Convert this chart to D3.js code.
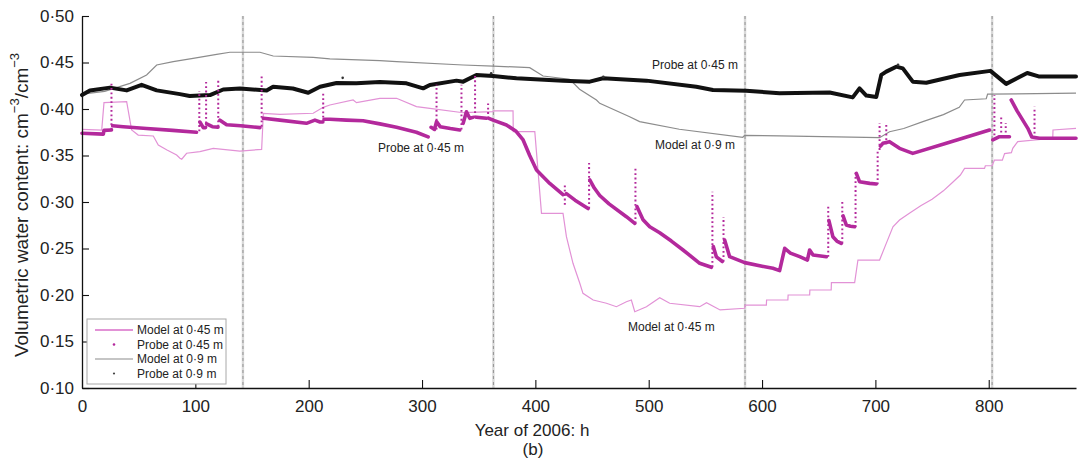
<!DOCTYPE html>
<html>
<head>
<meta charset="utf-8">
<script src="https://cdn.jsdelivr.net/npm/d3@7"></script>
<style>
  html, body { margin: 0; padding: 0; background: #fff; }
  svg { display: block; }
  text { font-family: "Liberation Sans", Arial, sans-serif; fill: #222; }
</style>
</head>
<body>
<svg id="chart" width="1078" height="461"></svg>
<script>
// ---------------- DATA ----------------
const xTicks = [0, 100, 200, 300, 400, 500, 600, 700, 800];
const yTicks = [0.10, 0.15, 0.20, 0.25, 0.30, 0.35, 0.40, 0.45, 0.50];
const markerLines = [142, 363, 585, 803];

// Model at 0.45 m  [hour, value]
const model045 = [[0,0.378],[17.4,0.3774],[19.4,0.4068],[39.4,0.4079],[43.8,0.3774],[49.6,0.372],[62.9,0.371],[67.3,0.3613],[75,0.356],[83.5,0.3505],[86.4,0.347],[88,0.346],[92.3,0.3524],[104,0.3541],[115.8,0.3577],[139.3,0.3548],[158.5,0.3566],[160,0.3954],[174.6,0.3943],[204,0.3954],[212.8,0.4018],[218.7,0.4043],[239.2,0.4097],[242.2,0.4068],[262.8,0.4115],[277.5,0.4115],[295.1,0.4025],[306.9,0.4007],[336.3,0.396],[362.7,0.3971],[363,0.3979],[380.3,0.3979],[380.5,0.3756],[399.5,0.3756],[405.4,0.2878],[424.4,0.2878],[427.4,0.2627],[433.2,0.2341],[439.2,0.2126],[442,0.2018],[451,0.1946],[462.7,0.1911],[471.5,0.1874],[480.3,0.1928],[484.7,0.1946],[487.7,0.182],[498,0.1874],[509.7,0.1971],[518.5,0.1911],[545,0.1874],[551,0.1917],[563,0.1839],[584.7,0.1857],[585,0.1892],[603.8,0.1892],[604,0.1946],[622.8,0.1946],[623,0.2],[642,0.2],[642.2,0.2054],[661,0.2054],[661.2,0.2133],[681.7,0.2133],[684.6,0.2376],[703.7,0.2376],[709.6,0.2555],[715.5,0.2734],[721.3,0.2806],[730,0.288],[740,0.296],[750,0.303],[760,0.312],[768,0.321],[775,0.329],[778.7,0.3362],[796.3,0.3362],[797,0.339],[803,0.339],[805,0.345],[812,0.345],[814,0.352],[820,0.353],[821.2,0.3577],[825.6,0.3649],[856.5,0.3685],[856.7,0.3774],[877,0.3792]];

// Model at 0.9 m
const model09 = [[0,0.416],[20,0.419],[42.3,0.4276],[57,0.4366],[65.9,0.4473],[80.5,0.4509],[98,0.4545],[118.8,0.4588],[130.5,0.461],[157,0.461],[168.7,0.457],[204,0.4556],[218.7,0.4538],[262.8,0.452],[277.5,0.4509],[336.3,0.4473],[362.7,0.4462],[395,0.4444],[406.8,0.4355],[430.3,0.432],[439,0.4212],[453.9,0.4097],[456.8,0.4061],[483.2,0.3917],[492,0.3864],[527,0.3782],[583,0.3696],[584.7,0.3717],[615.5,0.371],[703.7,0.3692],[712.5,0.3756],[725,0.379],[741.9,0.3864],[760,0.394],[774,0.4018],[778.7,0.4097],[797.8,0.411],[799,0.416],[877,0.417]];

// Probe at 0.9 m
const probe09 = [[0,0.415],[7,0.420],[24.7,0.423],[39.4,0.420],[52.6,0.426],[65.9,0.420],[86.4,0.416],[95,0.414],[112.9,0.415],[124.6,0.421],[139.3,0.422],[162.9,0.420],[168.6,0.424],[186,0.422],[199.6,0.4175],[210,0.424],[224.6,0.428],[242,0.4276],[262.8,0.429],[286.3,0.4276],[301,0.4222],[306.9,0.4258],[330.4,0.4305],[336.3,0.4294],[348,0.4366],[362.7,0.4355],[383.3,0.433],[424.4,0.4305],[448,0.4294],[459.7,0.433],[498,0.4305],[542,0.424],[556.7,0.4204],[586,0.4197],[615.5,0.4169],[659.6,0.4178],[680,0.4125],[686,0.4222],[692,0.4145],[700.8,0.413],[705.2,0.4366],[709.6,0.4402],[718.4,0.4455],[724.2,0.4437],[733,0.4294],[744.9,0.4283],[774.3,0.4366],[801.5,0.441],[815.4,0.427],[834,0.4387],[844,0.435],[877,0.435]];
const probe09Stray = [[230,0.4335],[361,0.4385],[460,0.4345],[720,0.4475]];

// Probe at 0.45 m (null separates recorded segments)
const probe045 = [
 [0,0.374],[18.8,0.373],[19.4,0.377],[26,0.3775], null,
 [27,0.382],[36.4,0.381],[57,0.379],[80,0.377],[101,0.375], null,
 [104,0.386],[107,0.380],[109,0.380], null,
 [110,0.384],[115,0.381],[120,0.3805], null,
 [121.7,0.388],[127.6,0.383],[140,0.382],[157,0.380], null,
 [160,0.390],[174.6,0.388],[198,0.3846],[205.5,0.388],[210,0.386],[212.5,0.386], null,
 [213.5,0.389],[218.7,0.389],[233.4,0.388],[248,0.3874],[262.8,0.384],[277.5,0.3803],[295,0.375],[305.4,0.370], null,
 [308,0.3803],[311,0.378],[312.8,0.3864],[316,0.381],[325,0.379],[333.3,0.3774], null,
 [336.3,0.3846],[339.2,0.397],[342.1,0.390],[345,0.391], null,
 [348,0.3911],[356.8,0.390], null,
 [359,0.390],[362.7,0.388],[374.5,0.3828],[383,0.376],[389.2,0.3667],[395,0.350],[401,0.3344],[412.7,0.320],[424.4,0.308], null,
 [427.4,0.309],[435,0.302],[446.5,0.293], null,
 [448,0.3237],[452,0.315],[456.8,0.307],[465,0.298],[480.3,0.2842],[487.7,0.277], null,
 [489.7,0.295],[495,0.281],[500.9,0.2734],[509.7,0.267],[520,0.258],[530.3,0.2484],[545,0.2341],[555.3,0.2298], null,
 [557,0.252],[559.7,0.241],[565,0.236], null,
 [567,0.2591],[571.4,0.2412],[584.7,0.2348],[600,0.231],[609.6,0.2287],[615.5,0.2262],[620,0.2502],[625,0.245],[633.2,0.2412],[640,0.2376],[642,0.2484],[645,0.243],[656.7,0.2412], null,
 [659,0.28],[662.5,0.2627],[666,0.258],[669.9,0.2555], null,
 [671.5,0.285],[674.3,0.2753],[678,0.274],[681.7,0.2734], null,
 [683.2,0.3308],[686,0.3218],[695,0.320],[700.8,0.3194], null,
 [704.5,0.3600],[706.6,0.3631],[712.5,0.3649],[721.3,0.3577],[733,0.3523],[762.5,0.3631],[800.7,0.3774], null,
 [803.6,0.3667],[809.5,0.3702],[818.3,0.3702], null,
 [819.8,0.4097],[825,0.398],[834.5,0.3792],[838,0.370],[844.8,0.3685],[877,0.3685]
];
// Probe at 0.45 m: sparse readings during wetting events [hour, low, high]
const spikes045 = [[26,0.378,0.430],[103.5,0.376,0.419],[109.5,0.380,0.429],[120.2,0.381,0.431],[158.5,0.381,0.435],[212.8,0.386,0.419],[312.8,0.378,0.426],[334.8,0.378,0.426],[346.8,0.391,0.437],[358.3,0.390,0.406],[426,0.297,0.318],[447.4,0.293,0.342],[488.3,0.277,0.337],[556.2,0.230,0.311],[566,0.236,0.284],[658.4,0.241,0.295],[670.8,0.2555,0.302],[682.5,0.273,0.331],[702,0.319,0.356],[703.7,0.356,0.385],[709.6,0.362,0.385],[805,0.367,0.415],[811,0.370,0.392],[815,0.370,0.385],[840.4,0.369,0.4025]];

const legendItems = ["Model at 0·45 m", "Probe at 0·45 m", "Model at 0·9 m", "Probe at 0·9 m"];

// ---------------- CHART ----------------
const svg = d3.select("#chart");
const M = {left: 82, right: 1076, top: 16, bottom: 388};
const x = d3.scaleLinear().domain([0, 877]).range([M.left, M.right]);
const y = d3.scaleLinear().domain([0.10, 0.50]).range([M.bottom, M.top]);

const C = {probe45: "#b3299c", model45: "#e292d6", model9: "#8c8c8c", probe9: "#111"};

// marker vertical lines
const vg = svg.append("g");
markerLines.forEach(v => {
  vg.append("line").attr("x1", x(v)).attr("x2", x(v)).attr("y1", y(0.50)).attr("y2", y(0.10))
    .attr("stroke", "#d8d8d8").attr("stroke-width", 2.4);
  vg.append("line").attr("x1", x(v)).attr("x2", x(v)).attr("y1", y(0.50)).attr("y2", y(0.10))
    .attr("stroke", "#959595").attr("stroke-width", 1).attr("stroke-dasharray", "3,3");
});

const line = d3.line().defined(d => d !== null).x(d => x(d[0])).y(d => y(d[1]));

// Model 0.9
svg.append("path").datum(model09).attr("d", line).attr("fill", "none")
  .attr("stroke", C.model9).attr("stroke-width", 1.2);
// Model 0.45
svg.append("path").datum(model045).attr("d", line).attr("fill", "none")
  .attr("stroke", C.model45).attr("stroke-width", 1.2);

// Probe 0.9
svg.append("path").datum(probe09).attr("d", line).attr("fill", "none")
  .attr("stroke", C.probe9).attr("stroke-width", 4).attr("stroke-linejoin", "round").attr("stroke-linecap", "round");
svg.selectAll(".stray").data(probe09Stray).enter().append("circle")
  .attr("cx", d => x(d[0])).attr("cy", d => y(d[1])).attr("r", 1.3).attr("fill", "#333");

// Probe 0.45 spikes (sparse dots)
svg.selectAll(".spike").data(spikes045).enter().append("line")
  .attr("x1", d => x(d[0])).attr("x2", d => x(d[0]))
  .attr("y1", d => y(d[1])).attr("y2", d => y(d[2]))
  .attr("stroke", C.probe45).attr("stroke-width", 2).attr("stroke-dasharray", "1.8,2.6");
// Probe 0.45 main
svg.append("path").datum(probe045).attr("d", line).attr("fill", "none")
  .attr("stroke", C.probe45).attr("stroke-width", 3.6).attr("stroke-linejoin", "round").attr("stroke-linecap", "round");

// Axes
const fmt = d => d3.format(".2f")(d).replace(".", "·");
const yAxis = d3.axisLeft(y).tickValues(yTicks).tickFormat(fmt).tickSizeInner(-7).tickSizeOuter(0).tickPadding(8);
const xAxis = d3.axisBottom(x).tickValues(xTicks).tickFormat(d3.format("d")).tickSizeInner(-8).tickSizeOuter(0).tickPadding(12);
const gy = svg.append("g").attr("transform", `translate(${M.left},0)`).call(yAxis);
const gx = svg.append("g").attr("transform", `translate(0,${M.bottom})`).call(xAxis);
[gx, gy].forEach(g => {
  g.selectAll("text").attr("font-size", 17).attr("font-family", "Liberation Sans, Arial, sans-serif").attr("fill", "#222");
  g.selectAll("line").attr("stroke", "#111").attr("stroke-width", 1.1);
  g.select(".domain").attr("stroke", "#111").attr("stroke-width", 1.3);
});

// Axis titles
svg.append("text").attr("x", 532).attr("y", 436).attr("text-anchor", "middle").attr("font-size", 17).text("Year of 2006: h");
svg.append("text").attr("x", 533).attr("y", 455).attr("text-anchor", "middle").attr("font-size", 17).text("(b)");
const yt = svg.append("text").attr("transform", "translate(28,205) rotate(-90)").attr("text-anchor", "middle").attr("font-size", 19);
yt.append("tspan").text("Volumetric water content: cm");
yt.append("tspan").attr("dy", -9).attr("font-size", 13).text("−3");
yt.append("tspan").attr("dy", 9).text("/cm");
yt.append("tspan").attr("dy", -9).attr("font-size", 13).text("−3");

// Annotations
const ann = [["Probe at 0·45 m", 652, 68.5], ["Model at 0·9 m", 655, 148.5], ["Probe at 0·45 m", 378, 152], ["Model at 0·45 m", 628, 331]];
ann.forEach(a => svg.append("text").attr("x", a[1]).attr("y", a[2]).attr("font-size", 12).attr("fill", "#222").text(a[0]));

// Legend
const lg = svg.append("g");
lg.append("rect").attr("x", 87).attr("y", 319).attr("width", 139).attr("height", 65)
  .attr("fill", "#fff").attr("stroke", "#a8a8a8").attr("stroke-width", 1);
const rowY = [330, 344.5, 359, 373.5];
legendItems.forEach((t, i) => {
  const yy = rowY[i];
  if (i === 0) lg.append("line").attr("x1", 95).attr("x2", 133).attr("y1", yy).attr("y2", yy).attr("stroke", C.model45).attr("stroke-width", 2);
  if (i === 2) lg.append("line").attr("x1", 95).attr("x2", 133).attr("y1", yy).attr("y2", yy).attr("stroke", C.model9).attr("stroke-width", 1.2);
  if (i === 1) lg.append("circle").attr("cx", 114).attr("cy", yy).attr("r", 1.3).attr("fill", C.probe45);
  if (i === 3) lg.append("circle").attr("cx", 114).attr("cy", yy).attr("r", 1.1).attr("fill", "#444");
  lg.append("text").attr("x", 137).attr("y", yy + 4.3).attr("font-size", 12).attr("fill", "#333").text(t);
});
</script>
</body>
</html>
